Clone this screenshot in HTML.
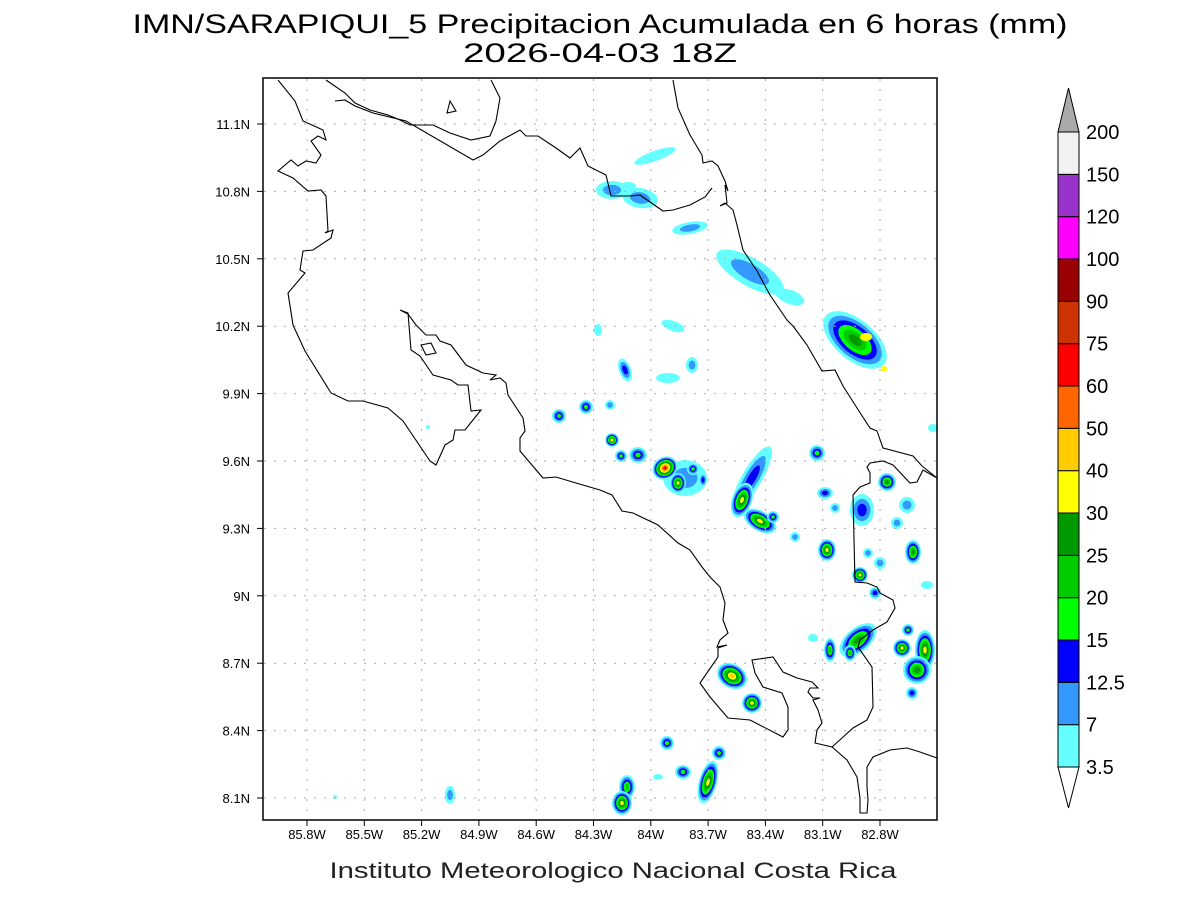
<!DOCTYPE html>
<html><head><meta charset="utf-8"><style>html,body{margin:0;padding:0;background:#fff}svg{display:block}</style></head>
<body>
<svg id="s" width="1200" height="900" xmlns="http://www.w3.org/2000/svg" font-family="Liberation Sans, sans-serif">
<rect width="1200" height="900" fill="#fff"/>
<g id="blobs"></g>
<g id="grid" stroke="#aaa" stroke-width="1" stroke-dasharray="2 8"></g>
<g fill="none" stroke="#000" stroke-width="1.1">
<path d="M278,80 L295,101 L303,121 L323,130 L326,140 L318,136 L311,141 L321,155 L316,163 L306,161 L298,166 L291,160 L278,171 L293,178 L308,191 L321,190 L326,196 L328,231 L325,233 L333,230 L331,238 L313,250 L303,251 L300,270 L305,273 L288,293 L293,325 L305,351 L331,393 L348,401 L363,401 L388,408 L403,421 L430,461 L436,465 L445,445 L453,440 L455,430 L465,430 L481,410 L471,411 L468,385 L458,385 L451,380 L433,375 L420,356 L411,350 L408,313 L400,310 L408,314 L416,325 L426,335 L436,335 L440,341 L451,345 L466,365 L483,373 L496,375 L490,380 L500,378 L506,383 L508,395 L523,418 L525,431 L520,438 L520,451 L543,478 L556,477 L576,483 L600,490 L612,495 L622,511 L633,513 L658,525 L678,543 L690,550 L702,567 L710,577 L720,587 L725,603 L723,620 L728,633 L720,640 L717,647 L727,645 L718,648 L718,657 L700,683 L710,697 L728,718 L750,720 L783,737 L788,730 L788,707 L782,693 L763,687 L755,673 L752,660 L773,657 L783,672 L797,678 L812,682 L818,688 L810,688 L808,692 L813,698 L820,698 L813,700 L818,710 L822,723 L817,730 L815,743 L832,747 L847,760 L857,777 L860,798 L860,813 L867,813 L868,800 L867,787 L867,767 L873,757 L890,750 L907,748 L920,752 L937,758"/>
<path d="M832,747 L842,738 L853,728 L867,720 L873,707 L872,667 L858,647 L860,640 L873,630 L887,622 L895,608 L893,600 L880,593 L877,587 L867,583 L855,582 L853,495 L860,487 L870,483 L870,473 L867,467 L870,463 L883,461 L893,465 L910,483 L917,482 L923,470 L937,478"/>
<path d="M421,345 L431,343 L436,353 L426,355 Z"/>
<path d="M326,80 L345,93 L355,103 L370,110 L388,115 L400,120 L410,125 L433,125 L450,133 L471,140 L490,136 L496,121 L500,98 L491,80"/>
<path d="M450,101 L456,111 L447,113 Z"/>
<path d="M335,101 L345,100 L355,106 L373,113 L406,121 L473,160 L483,155 L500,141 L520,130 L526,136 L538,136 L556,148 L570,158 L580,148 L588,166 L606,175 L611,196 L630,196 L640,195 L663,211 L673,210 L690,205 L705,197 L712,188"/>
<path d="M673,80 L678,108 L690,135 L702,155 L703,163 L712,161 L718,166 L725,181 L728,191 L725,185 L727,203 L720,206 L725,203 L733,210 L737,225 L743,250 L757,271 L770,295 L787,320 L793,326 L807,345 L822,371 L835,370 L843,386 L857,408 L870,428 L877,431 L883,448 L913,456 L922,466 L937,478"/>
</g>
<rect x="263" y="78" width="674" height="742" fill="none" stroke="#000" stroke-width="1.5"/>
<g id="ticks" stroke="#000" stroke-width="1"></g>
<g id="labels" font-size="13" fill="#000"></g>
<text x="600" y="33" font-size="27" text-anchor="middle" textLength="935" lengthAdjust="spacingAndGlyphs">IMN/SARAPIQUI_5 Precipitacion Acumulada en 6 horas (mm)</text>
<text x="600" y="62" font-size="27" text-anchor="middle" textLength="274" lengthAdjust="spacingAndGlyphs">2026-04-03 18Z</text>
<text x="613" y="878" font-size="22" text-anchor="middle" fill="#222" textLength="567" lengthAdjust="spacingAndGlyphs">Instituto Meteorologico Nacional Costa Rica</text>
<g id="cbar" stroke="#000" stroke-width="1"></g>
</svg>
<script>
var NS="http://www.w3.org/2000/svg";
function el(p,t,a,txt){var e=document.createElementNS(NS,t);for(var k in a)e.setAttribute(k,a[k]);if(txt)e.textContent=txt;p.appendChild(e);return e;}
var cols=["#66ffff","#3399ff","#0000ff","#00ff00","#00cc00","#009900","#ffff00","#ffcc00","#ff6600","#ff0000"];
var B=[
[655,156,22,5,-20,1],[612,190,16,9,0,2],[640,198,18,10,10,2],[628,186,8,4,0,1],[690,228,18,6,-10,2],
[750,272,38,14,30,2],[790,297,15,7,20,1],[855,340,38,20,40,6],
[673,326,12,5,20,1],[692,365,6,8,0,2],[668,378,12,5,0,1],[625,370,6,12,-20,3],[610,405,5,5,0,2],[598,330,4,6,0,1],
[586,407,7,7,0,4],[559,416,7,7,0,4],[612,440,7,7,0,7],[621,456,6,6,0,4],[638,455,9,8,0,4],
[685,478,22,18,0,2],[665,468,13,11,-30,10],[678,483,8,10,0,7],[693,469,6,6,0,4],[703,480,4,7,0,3],
[752,478,10,36,30,3],[742,500,10,18,20,7],[760,521,18,10,30,7],[773,517,6,6,0,4],
[817,453,8,8,0,4],[825,493,8,6,0,3],[835,508,5,5,0,2],[862,510,12,16,0,3],[887,482,9,9,0,6],
[907,505,8,8,0,2],[897,523,6,6,0,2],[827,550,9,11,0,7],[860,575,8,8,0,7],[913,552,8,12,0,6],
[880,563,6,6,0,2],[868,553,5,5,0,2],[795,537,5,5,0,2],[875,593,6,6,0,3],[927,585,6,4,0,1],
[858,640,22,12,-40,6],[850,653,6,8,0,5],[830,650,6,12,0,5],[813,638,5,4,0,1],[902,648,9,9,0,7],
[908,630,6,6,0,4],[925,650,10,20,0,7],[917,670,14,14,0,6],[912,693,6,6,0,3],
[732,676,16,12,30,8],[752,703,10,10,0,7],[667,743,7,7,0,4],[683,772,8,7,0,4],[708,782,9,22,15,7],[719,753,7,7,0,4],
[627,787,8,12,0,5],[622,803,10,12,0,7],[658,777,5,3,0,1],[450,795,5,9,0,2],[933,428,5,4,0,1],[335,797,2,2,0,1],[428,427,2,2,0,1]
];
var g=document.getElementById("blobs");
B.forEach(function(b){var n=b[5];for(var k=0;k<n;k++){var s=1-k/(n+0.3);
el(g,"ellipse",{cx:b[0],cy:b[1],rx:Math.max(1.5,b[2]*s),ry:Math.max(1.5,b[3]*s),fill:cols[k],transform:"rotate("+b[4]+" "+b[0]+" "+b[1]+")"});}});
el(g,"ellipse",{cx:866,cy:337,rx:6,ry:4,fill:"#ffff00"});el(g,"ellipse",{cx:884,cy:369,rx:3,ry:3,fill:"#ffff00"});
var gr=document.getElementById("grid"),tk=document.getElementById("ticks"),lb=document.getElementById("labels");
var lons=["85.8W","85.5W","85.2W","84.9W","84.6W","84.3W","84W","83.7W","83.4W","83.1W","82.8W"];
var lats=["11.1N","10.8N","10.5N","10.2N","9.9N","9.6N","9.3N","9N","8.7N","8.4N","8.1N"];
for(var i=0;i<11;i++){var x=307+57.3*i;el(gr,"line",{x1:x,y1:79,x2:x,y2:819});el(tk,"line",{x1:x,y1:820,x2:x,y2:826});
el(lb,"text",{x:x,y:839,"text-anchor":"middle"},lons[i]);
var y=124+67.4*i;el(gr,"line",{x1:264,y1:y,x2:936,y2:y});el(tk,"line",{x1:257,y1:y,x2:263,y2:y});
el(lb,"text",{x:250,y:y+5,"text-anchor":"end"},lats[i]);}
var cb=document.getElementById("cbar");
var cc=["#66ffff","#3399ff","#0000ff","#00ff00","#00cc00","#009900","#ffff00","#ffcc00","#ff6600","#ff0000","#cc3300","#990000","#ff00ff","#9933cc","#f2f2f2"];
var lv=["3.5","7","12.5","15","20","25","30","40","50","60","75","90","100","120","150","200"];
var h=(767-132)/15;
for(var i=0;i<15;i++){el(cb,"rect",{x:1058,y:767-h*(i+1),width:21,height:h,fill:cc[i]});}
el(cb,"path",{d:"M1058,767 L1079,767 L1068.5,808 Z",fill:"#fff"});
el(cb,"path",{d:"M1058,132 L1079,132 L1068.5,88 Z",fill:"#aaaaaa"});
for(var i=0;i<16;i++){el(cb,"text",{x:1086,y:767-h*i+7,"font-size":20,fill:"#000",stroke:"none"},lv[i]);}
</script>
</body></html>
